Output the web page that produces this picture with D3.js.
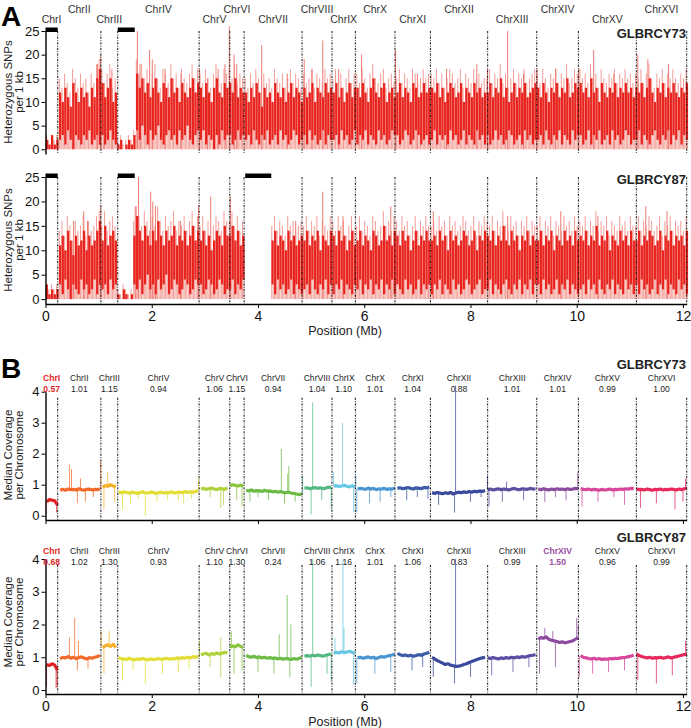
<!DOCTYPE html>
<html><head><meta charset="utf-8">
<script src="https://cdn.jsdelivr.net/npm/d3@7"></script>
<style>body{margin:0;background:#fff} svg{display:block} text{font-family:"Liberation Sans",Arial,Helvetica,sans-serif}</style>
</head><body><svg id="c" width="691" height="728"></svg>
<script>
// ---------- DATA ----------
const chromNames = ["ChrI","ChrII","ChrIII","ChrIV","ChrV","ChrVI","ChrVII","ChrVIII","ChrIX","ChrX","ChrXI","ChrXII","ChrXIII","ChrXIV","ChrXV","ChrXVI"];
const chromEnds = [0.230,1.043,1.360,2.892,3.469,3.739,4.830,5.393,5.833,6.579,7.246,8.324,9.248,10.032,11.123,12.071];
const chromColors = ["#e31f26","#f26a2b","#f8b12b","#e3de36","#b0d23a","#8cc63f","#6cbb47","#55b983","#67c7e3","#4a96d3","#3b5aa8","#3b4a9a","#5b4fa2","#8c4b9f","#d7479b","#e6295a"];
const binStep = 0.05; // Mb per bin

const covLabelsY73 = ["0.57","1.01","1.15","0.94","1.06","1.15","0.94","1.04","1.10","1.01","1.04","0.88","1.01","1.01","0.99","1.00"];
const covLabelsY87 = ["0.68","1.02","1.30","0.93","1.10","1.30","0.24","1.06","1.16","1.01","1.06","0.83","0.99","1.50","0.96","0.99"];
const highlightY73 = {"ChrI":"#e31f26"};
const highlightY87 = {"ChrI":"#e31f26","ChrXIV":"#9a4fa3"};

// Panel A : heterozygous SNPs per 1 kb — per 50 kb bin: dense band (lo..hi) and local peak
const snpHiY73 = [2,1,3,1,2,
 12,10,13,11,9,14,12,10,13,11,12,9,13,11,15,17,
 14,11,13,15,10,12,
 1,2,0,1,2,1,3,
 16,13,15,12,14,11,13,15,12,10,14,13,11,15,12,13,10,14,12,11,13,15,12,14,
 13,11,14,12,10,13,15,12,11,14,13,
 14,12,15,11,13,12,
 12,10,13,11,14,12,9,13,11,12,10,14,12,11,13,10,12,14,11,13,12,10,
 13,11,12,14,10,13,12,11,14,12,13,
 12,14,11,13,10,12,14,11,13,
 13,11,14,12,10,13,15,12,11,13,14,10,12,13,11,
 12,14,11,13,12,10,14,13,11,12,14,12,13,
 13,12,14,11,13,10,12,14,13,11,12,14,10,13,12,11,14,12,13,11,12,
 12,14,11,13,12,15,11,13,10,12,14,11,13,12,14,11,12,13,14,
 13,11,14,12,10,13,12,14,11,13,12,15,11,12,14,13,
 14,12,13,11,15,12,13,10,14,12,11,13,12,14,11,13,12,14,12,13,11,
 13,12,14,11,13,15,12,10,13,12,14,11,13,12,14,12,11,13,12,14];
const snpLoY73 = [0,0,0,0,0,
 2,3,1,4,2,0,3,2,1,3,2,4,1,2,3,1,
 3,1,2,4,2,1,
 0,0,0,0,0,0,0,
 4,2,5,3,1,4,2,3,5,2,1,3,4,2,3,1,4,2,3,5,2,1,3,4,
 2,4,1,3,2,0,3,1,4,2,3,
 3,1,2,4,2,3,
 2,3,1,4,2,1,3,2,4,1,2,3,1,4,2,3,1,2,4,3,1,2,
 3,1,4,2,3,1,2,4,1,3,2,
 2,3,1,4,2,3,1,2,4,
 1,3,2,4,1,3,2,1,4,2,3,1,2,4,3,
 3,1,2,4,3,1,2,4,3,1,2,3,1,
 2,4,1,3,2,3,1,4,2,3,1,2,4,1,3,2,1,4,2,3,1,
 3,1,2,4,2,3,1,2,4,3,1,2,3,1,4,2,3,1,2,
 2,3,1,4,2,1,3,2,4,1,3,2,1,4,2,3,
 3,1,2,4,1,3,2,4,1,2,3,1,4,2,3,1,2,4,3,1,2,
 2,4,1,3,2,1,3,4,2,1,3,2,4,1,3,2,4,1,3,2];
const snpPeakY73 = [3,2,3,2,3,
 15,13,16,14,12,17,15,13,16,14,15,12,16,14,18,19,
 17,14,16,18,13,15,
 2,3,1,2,3,2,4,
 19,16,18,15,17,14,16,18,15,13,17,16,14,18,15,16,13,17,15,14,16,18,15,17,
 16,14,17,15,13,16,18,15,14,17,16,
 17,15,18,14,16,15,
 15,13,16,14,17,15,12,16,14,15,13,17,15,14,16,13,15,17,14,16,15,13,
 16,14,15,17,13,16,15,14,17,15,16,
 15,17,14,16,13,15,17,14,16,
 16,14,17,15,13,16,18,15,14,16,17,13,15,16,14,
 15,17,14,16,15,13,17,16,14,15,17,15,16,
 16,15,17,14,16,13,15,17,16,14,15,17,13,16,15,14,17,15,16,14,15,
 15,17,14,16,15,18,14,16,13,15,17,14,16,15,17,14,15,16,17,
 16,14,17,15,13,16,15,17,14,16,15,18,14,15,17,16,
 17,15,16,14,18,15,16,13,17,15,14,16,15,17,14,16,15,17,15,16,14,
 16,15,17,14,16,18,15,13,16,15,17,14,16,15,17,15,14,16,15,17];
const snpSpikesY73 = [[0.02,3],[0.98,18],[1.04,20],[1.1,14],[1.25,17],[1.73,25],[1.78,18],[1.96,21],[2.01,19],[2.25,17],[2.55,16],[2.9,17],[3.05,15],[3.25,17],[3.38,18],[3.46,26],[3.55,20],[3.6,18],[4.07,22],[4.55,16],[4.87,19],[5.02,17],[5.22,23],[5.52,17],[5.95,20],[6.59,21],[7.0,16],[7.55,17],[8.12,18],[8.32,17],[8.7,25],[9.0,16],[9.25,17],[9.6,17],[10.04,17],[10.32,21],[10.7,16],[11.15,20],[11.34,19],[11.73,18]];
const lohY73 = [[0,0.23],[1.36,1.68]];

const snpHiY87 = [3,1,2,1,2,
 11,13,10,14,12,9,13,11,12,14,10,13,11,12,14,16,
 12,15,11,13,14,12,
 1,0,2,1,0,1,
 13,17,14,12,15,13,11,14,12,16,13,11,14,12,13,15,11,13,12,14,11,13,15,12,14,
 12,14,11,13,10,12,14,13,11,15,13,
 13,15,12,14,11,13,
 0,0,0,0,0,0,0,0,0,0,12,14,11,13,12,10,14,12,13,11,12,13,
 12,14,11,13,12,14,10,13,12,11,14,
 13,11,14,12,13,10,12,14,11,
 12,14,11,13,12,10,14,13,11,12,15,12,13,11,14,
 13,11,14,12,13,10,12,14,11,13,12,14,12,
 12,13,11,14,12,13,10,14,12,13,11,12,14,13,11,12,14,10,13,12,14,
 13,12,14,11,13,12,15,12,11,14,12,13,10,13,12,14,11,13,12,
 12,14,11,13,12,14,10,13,12,11,14,12,13,11,14,12,
 13,12,14,11,13,12,15,11,13,12,14,10,13,12,11,14,12,13,11,14,12,
 12,14,11,13,12,14,13,11,12,14,10,13,12,14,11,13,12,13,11,14];
const snpLoY87 = [0,0,0,0,0,
 3,1,4,2,0,3,2,1,4,2,3,1,2,4,1,3,
 2,3,1,4,2,3,
 0,0,0,0,0,0,
 3,2,4,1,3,5,2,3,1,4,2,3,5,1,2,4,3,1,2,4,3,1,2,4,3,
 3,1,2,4,3,1,2,4,3,1,2,
 2,4,1,3,2,4,
 0,0,0,0,0,0,0,0,0,0,3,1,4,2,3,1,2,4,1,3,2,1,
 2,3,1,4,2,1,3,2,4,1,3,
 1,3,2,4,1,3,2,1,3,
 2,4,1,3,2,4,1,3,2,4,1,3,2,4,1,
 3,2,1,4,2,3,1,2,4,1,3,2,3,
 1,3,2,4,1,3,2,1,4,2,3,1,2,4,3,1,2,3,4,1,2,
 2,4,1,3,2,1,3,4,2,1,3,2,4,1,3,2,4,1,3,
 3,1,4,2,3,1,2,4,1,3,2,4,1,3,2,1,
 2,3,1,4,2,3,1,4,2,1,3,2,4,1,3,2,1,4,2,3,1,
 3,1,4,2,3,1,2,4,1,3,2,4,1,3,2,1,4,2,3,1];
const snpPeakY87 = [3,2,3,2,3,
 14,16,13,17,15,12,16,14,15,17,13,16,14,15,17,18,
 15,18,14,16,17,15,
 2,1,3,2,1,2,
 16,19,17,15,18,16,14,17,15,19,16,14,17,15,16,18,14,16,15,17,14,16,18,15,17,
 15,17,14,16,13,15,17,16,14,18,16,
 16,18,15,17,14,16,
 0,0,0,0,0,0,0,0,0,0,15,17,14,16,15,13,17,15,16,14,15,16,
 15,17,14,16,15,17,13,16,15,14,17,
 16,14,17,15,16,13,15,17,14,
 15,17,14,16,15,13,17,16,14,15,18,15,16,14,17,
 16,14,17,15,16,13,15,17,14,16,15,17,15,
 15,16,14,17,15,16,13,17,15,16,14,15,17,16,14,15,17,13,16,15,17,
 16,15,17,14,16,15,18,15,14,17,15,16,13,16,15,17,14,16,15,
 15,17,14,16,15,17,13,16,15,14,17,15,16,14,17,15,
 16,15,17,14,16,15,18,14,16,15,17,13,16,15,14,17,15,16,14,17,15,
 15,17,14,16,15,17,16,14,15,17,13,16,15,17,14,16,15,16,14,17];
const snpSpikesY87 = [[0.02,2],[0.53,16],[0.72,18],[0.79,16],[1.04,19],[1.69,19],[1.75,25],[1.98,22],[2.02,20],[2.07,19],[2.54,16],[2.88,19],[3.11,21],[3.48,21],[4.71,16],[5.22,22],[5.6,17],[6.5,19],[7.3,18],[8.7,17],[9.7,18],[10.4,17],[11.3,19],[11.7,18]];
const lohY87 = [[0,0.23],[1.36,1.68],[3.76,4.25]];

// Panel B : median-normalised coverage per 50 kb bin
const covY73 = [0.45,0.52,0.5,0.48,0.35,
 0.83,0.85,0.82,0.86,0.84,0.85,0.83,0.87,0.84,0.82,0.85,0.86,0.83,0.85,0.84,0.86,
 0.92,0.97,0.95,1.0,0.96,0.93,
 0.76,0.74,0.77,0.75,0.73,0.76,0.74,0.72,0.75,0.77,0.74,0.73,0.76,0.75,0.72,0.74,0.76,0.73,0.75,0.74,0.77,0.73,0.75,0.76,0.74,0.78,0.75,0.77,0.76,0.78,0.8,
 0.86,0.88,0.85,0.87,0.89,0.86,0.84,0.88,0.87,0.85,0.9,
 0.97,1.0,0.98,0.96,0.99,0.95,
 0.82,0.8,0.83,0.79,0.81,0.8,0.78,0.82,0.79,0.8,0.77,0.79,0.76,0.78,0.75,0.74,0.76,0.73,0.72,0.7,0.68,0.7,
 0.88,0.9,0.87,0.89,0.91,0.88,0.9,0.87,0.89,0.92,0.9,
 0.95,0.97,0.94,0.96,0.98,0.95,0.93,0.97,0.92,
 0.86,0.88,0.87,0.85,0.89,0.86,0.88,0.84,0.87,0.86,0.88,0.85,0.87,0.86,0.89,
 0.88,0.9,0.87,0.89,0.91,0.88,0.86,0.9,0.89,0.87,0.91,0.9,0.92,
 0.74,0.72,0.75,0.73,0.71,0.74,0.72,0.75,0.7,0.73,0.76,0.74,0.77,0.75,0.78,0.76,0.79,0.77,0.8,0.78,0.81,
 0.84,0.86,0.83,0.85,0.87,0.84,0.86,0.85,0.83,0.86,0.88,0.85,0.84,0.87,0.86,0.85,0.88,0.86,0.87,
 0.86,0.84,0.87,0.85,0.83,0.86,0.84,0.87,0.85,0.86,0.84,0.87,0.85,0.86,0.88,0.87,
 0.88,0.85,0.84,0.86,0.83,0.85,0.84,0.82,0.85,0.83,0.84,0.86,0.83,0.85,0.84,0.86,0.85,0.87,0.86,0.88,0.87,
 0.86,0.84,0.85,0.83,0.86,0.84,0.82,0.85,0.84,0.86,0.83,0.85,0.84,0.86,0.85,0.83,0.86,0.84,0.87,0.88];
const covSpikesY73 = [[0.01,0.05],[0.21,0.1],[0.45,1.65],[0.49,1.5],[0.6,0.4],[0.66,1.2],[0.75,0.45],[0.9,0.6],[1.04,1.75],[1.1,0.2],[1.17,1.4],[1.3,0.45],[1.45,0.2],[1.6,0.4],[1.75,0.55],[1.88,0.0],[2.1,0.45],[2.3,0.5],[2.5,0.5],[2.6,0.4],[2.75,0.55],[2.88,1.25],[3.1,0.6],[3.3,0.25],[3.35,0.35],[3.6,0.5],[3.7,0.3],[3.85,0.45],[4.0,0.6],[4.2,0.5],[4.44,2.15],[4.5,0.4],[4.56,1.35],[4.58,1.6],[4.7,0.45],[4.84,1.3],[5.0,0.05],[5.03,3.65],[5.2,0.5],[5.38,0.2],[5.42,1.4],[5.59,3.0],[5.8,0.1],[5.84,1.3],[5.86,0.1],[6.1,0.4],[6.3,0.45],[6.5,0.6],[6.8,0.5],[7.0,0.6],[7.2,0.55],[7.4,0.35],[7.7,0.1],[7.72,4.2],[8.0,0.45],[8.2,0.6],[8.32,1.3],[8.35,0.3],[8.6,0.45],[8.68,1.1],[9.0,0.5],[9.4,0.45],[9.6,0.6],[9.8,0.5],[10.02,1.4],[10.1,0.3],[10.4,0.45],[10.7,0.6],[10.9,0.35],[11.2,0.25],[11.5,0.4],[11.85,0.2],[12.0,0.45],[12.05,1.2]];

const covY87 = [0.78,0.75,0.8,0.76,0.6,
 0.95,1.0,0.98,1.02,0.97,1.0,0.96,0.99,1.01,0.98,0.95,0.99,0.97,1.0,1.02,1.05,
 1.3,1.35,1.38,1.33,1.4,1.3,
 0.98,0.96,0.95,0.93,0.97,0.94,0.92,0.95,0.93,0.96,0.94,0.92,0.95,0.93,0.94,0.96,0.93,0.95,0.97,0.94,0.96,0.95,0.98,0.96,0.99,0.97,1.0,0.98,1.02,1.0,1.03,
 1.08,1.1,1.12,1.07,1.11,1.09,1.13,1.1,1.12,1.15,1.14,
 1.3,1.35,1.32,1.38,1.33,1.3,
 1.05,1.02,1.0,1.03,0.99,1.01,0.98,1.0,0.97,0.99,0.96,0.98,0.95,0.97,0.94,0.96,0.95,0.93,0.96,0.94,0.97,0.99,
 1.02,1.05,1.03,1.06,1.04,1.07,1.05,1.03,1.06,1.08,1.1,
 1.12,1.15,1.13,1.17,1.14,1.16,1.18,1.15,1.12,
 0.98,1.0,0.97,0.99,1.01,0.98,1.0,0.96,0.99,1.02,1.0,1.03,1.05,1.07,1.1,
 1.12,1.08,1.05,1.07,1.04,1.06,1.03,1.05,1.08,1.06,1.1,1.12,1.15,
 1.0,0.95,0.9,0.86,0.82,0.78,0.8,0.76,0.74,0.72,0.73,0.75,0.78,0.8,0.84,0.87,0.9,0.93,0.96,0.98,1.0,
 0.98,0.96,0.99,0.97,0.95,0.98,0.96,0.99,0.97,1.0,0.98,1.01,0.99,1.02,1.0,1.03,1.05,1.06,1.08,
 1.55,1.6,1.58,1.62,1.55,1.52,1.5,1.48,1.45,1.47,1.44,1.46,1.48,1.5,1.55,1.6,
 1.05,1.0,0.98,0.96,0.95,0.97,0.94,0.96,0.93,0.95,0.94,0.96,0.95,0.97,0.96,0.98,0.99,1.0,1.02,1.04,1.06,
 1.1,1.05,1.02,1.0,0.98,1.0,0.97,0.99,0.98,1.0,0.97,0.99,1.01,0.98,1.0,1.02,1.04,1.06,1.08,1.1];
const covSpikesY87 = [[0.02,0.1],[0.2,0.05],[0.22,0.1],[0.45,1.6],[0.55,2.2],[0.6,0.6],[0.62,1.5],[0.8,0.65],[1.05,1.8],[1.1,0.5],[1.2,1.8],[1.45,0.3],[1.65,0.6],[1.88,0.2],[2.2,0.5],[2.5,0.55],[2.7,0.65],[2.9,1.5],[3.1,0.7],[3.3,0.4],[3.3,1.6],[3.5,1.8],[3.55,0.5],[3.7,0.6],[4.0,0.55],[4.3,0.5],[4.4,1.7],[4.55,2.9],[4.6,0.4],[4.62,2.0],[5.0,0.1],[5.03,4.0],[5.3,0.5],[5.38,0.25],[5.45,1.6],[5.6,4.0],[5.62,1.9],[5.8,0.15],[5.86,0.2],[6.2,0.5],[6.5,0.55],[6.9,0.6],[7.1,0.7],[7.3,0.4],[7.7,0.2],[7.72,4.0],[8.0,0.4],[8.4,0.45],[8.8,0.55],[9.1,0.7],[9.3,0.5],[9.4,1.9],[9.55,1.8],[9.6,0.7],[10.0,2.2],[10.03,2.0],[10.05,0.4],[10.3,0.5],[10.6,0.55],[10.9,0.6],[11.15,0.3],[11.5,0.2],[11.8,0.45],[12.05,1.5]];

const snpTicks = [0,5,10,15,20,25];
const covTicks = [0,1,2,3,4];
const posTicks = [0,2,4,6,8,10,12];

// ---------- DRAW ----------
const svg = d3.select("#c");
const x = d3.scaleLinear().domain([0, 12.071]).range([45.5, 45.5 + 12.071 * 53.12]);
const chromStarts = [0].concat(chromEnds.slice(0, -1));
const chromMids = chromStarts.map((s, i) => (s + chromEnds[i]) / 2);
const binPos = i => (i + 0.5) * binStep;
const chromOf = p => Math.min(d3.bisectRight(chromEnds, p), chromEnds.length - 1);

function dashes(y0, y1) {
  svg.append("g").selectAll("line").data(chromEnds).join("line")
    .attr("x1", d => x(d)).attr("x2", d => x(d))
    .attr("y1", y0).attr("y2", y1)
    .attr("stroke", "#111").attr("stroke-width", 1)
    .attr("stroke-dasharray", "2.2,1.3,0.8,1.3");
}

function yAxis(y, ticks) {
  const g = svg.append("g").attr("transform", "translate(45.5,0)")
    .call(d3.axisLeft(y).tickValues(ticks).tickSize(4).tickSizeOuter(0).tickPadding(2).tickFormat(d3.format("d")));
  g.select(".domain").attr("stroke-width", 1.4);
  g.selectAll("text").attr("font-size", 13).attr("fill", "#111");
  return g;
}

function xAxis(yPos, labels) {
  const g = svg.append("g").attr("transform", `translate(0,${yPos})`)
    .call(d3.axisBottom(x).tickValues(posTicks).tickSize(4).tickSizeOuter(0).tickPadding(3)
      .tickFormat(labels ? d3.format("d") : () => ""));
  g.select(".domain").attr("stroke-width", 1.4);
  g.selectAll("text").attr("font-size", 14).attr("fill", "#111");
}

function snpTrack(hi, lo, peak, spikes, loh, top, bottom, name) {
  const y = d3.scaleLinear().domain([-1, 25]).range([bottom, top]);
  const g = svg.append("g");
  const bins = hi.map((h, i) => ({p: binPos(i), h, l: lo[i], k: peak[i]})).filter(d => d.h > 0 || d.k > 0);
  g.selectAll(".pk").data(bins).join("line")
    .attr("x1", d => x(d.p) - 0.8).attr("x2", d => x(d.p) - 0.8)
    .attr("y1", y(0)).attr("y2", d => y(d.k))
    .attr("stroke", "#f39c95").attr("stroke-width", 1);
  g.selectAll(".low").data(bins).join("line")
    .attr("x1", d => x(d.p) + 0.6).attr("x2", d => x(d.p) + 0.6)
    .attr("y1", y(0)).attr("y2", d => y(d.l))
    .attr("stroke", "#f5b3ad").attr("stroke-width", 1.2);
  g.selectAll(".spk").data(spikes).join("line")
    .attr("x1", d => x(d[0])).attr("x2", d => x(d[0]))
    .attr("y1", y(0)).attr("y2", d => y(d[1]))
    .attr("stroke", "#ee7a72").attr("stroke-width", 1);
  g.selectAll(".band").data(bins).join("line")
    .attr("x1", d => x(d.p)).attr("x2", d => x(d.p))
    .attr("y1", d => y(d.l)).attr("y2", d => y(d.h))
    .attr("stroke", "#e8241f").attr("stroke-width", 2.3);
  dashes(top, bottom);
  svg.append("g").selectAll("rect").data(loh).join("rect")
    .attr("x", d => x(d[0])).attr("width", d => x(d[1]) - x(d[0]))
    .attr("y", top - 3.5).attr("height", 4.5).attr("fill", "#000");
  yAxis(y, snpTicks);
  svg.append("text").attr("x", 686).attr("y", top + 7).attr("text-anchor", "end")
    .attr("font-size", 13).attr("font-weight", "bold").attr("fill", "#222").text(name);
  return y;
}

function covTrack(vals, spikes, top, zeroY, bottom, name, labels, highlight, labelY) {
  const y = d3.scaleLinear().domain([0, 4]).range([zeroY, top]);
  const g = svg.append("g");
  g.selectAll("line").data(spikes).join("line")
    .attr("x1", d => x(d[0])).attr("x2", d => x(d[0]))
    .attr("y1", d => y(vals[Math.min(Math.floor(d[0] / binStep), vals.length - 1)]))
    .attr("y2", d => y(d[1]))
    .attr("stroke", d => chromColors[chromOf(d[0])]).attr("stroke-width", 1).attr("opacity", 0.75);
  const line = d3.line().x(d => x(d.p)).y(d => y(d.v));
  const pts = vals.map((v, i) => ({p: binPos(i), v, c: chromOf(binPos(i))}));
  chromNames.forEach((n, ci) => {
    const seg = pts.filter(d => d.c === ci);
    g.append("path").datum(seg).attr("d", line).attr("fill", "none")
      .attr("stroke", chromColors[ci]).attr("stroke-width", 3.2).attr("stroke-linejoin", "round");
  });
  dashes(top + 6, bottom);
  yAxis(d3.scaleLinear().domain([y.invert(bottom), 4]).range([bottom, top]), covTicks);
  const lg = svg.append("g").attr("font-size", 8.6).attr("text-anchor", "middle");
  chromNames.forEach((n, i) => {
    const col = highlight[n] || "#222";
    const w = highlight[n] ? "bold" : "normal";
    lg.append("text").attr("x", x(chromMids[i])).attr("y", labelY)
      .attr("fill", col).attr("font-weight", w).text(n);
    lg.append("text").attr("x", x(chromMids[i])).attr("y", labelY + 11)
      .attr("fill", col).attr("font-weight", w).text(labels[i]);
  });
  svg.append("text").attr("x", 686).attr("y", labelY - 12).attr("text-anchor", "end")
    .attr("font-size", 13).attr("font-weight", "bold").attr("fill", "#222").text(name);
}

function yTitle(cy, l1, l2, x1, x2) {
  const g = svg.append("g").attr("font-size", 11.5).attr("fill", "#222").attr("text-anchor", "middle");
  g.append("text").attr("transform", `translate(${x1},${cy}) rotate(-90)`).text(l1);
  g.append("text").attr("transform", `translate(${x2},${cy}) rotate(-90)`).text(l2);
}

// Panel A
svg.append("text").attr("x", 1).attr("y", 26).attr("font-size", 28).attr("font-weight", "bold").text("A");
const ta = svg.append("g").attr("font-size", 10.5).attr("text-anchor", "middle");
chromNames.forEach((n, i) => {
  ta.append("text").attr("x", x(chromMids[i])).attr("y", i % 2 === 0 ? 22.5 : 13).attr("fill", "#333").text(n);
});
snpTrack(snpHiY73, snpLoY73, snpPeakY73, snpSpikesY73, lohY73, 31, 154, "GLBRCY73");
snpTrack(snpHiY87, snpLoY87, snpPeakY87, snpSpikesY87, lohY87, 177, 304, "GLBRCY87");
xAxis(304, true);
svg.append("text").attr("x", 345).attr("y", 335).attr("text-anchor", "middle").attr("font-size", 12.5).attr("fill", "#222").text("Position (Mb)");
yTitle(92, "Heterozygous SNPs", "per 1 kb", 11.5, 23);
yTitle(240, "Heterozygous SNPs", "per 1 kb", 11.5, 23);

// Panel B
svg.append("text").attr("x", 1).attr("y", 378).attr("font-size", 28).attr("font-weight", "bold").text("B");
covTrack(covY73, covSpikesY73, 391.7, 515.7, 520, "GLBRCY73", covLabelsY73, highlightY73, 381);
xAxis(520, false);
covTrack(covY87, covSpikesY87, 559, 690, 694, "GLBRCY87", covLabelsY87, highlightY87, 554);
xAxis(694, true);
svg.append("text").attr("x", 345).attr("y", 726).attr("text-anchor", "middle").attr("font-size", 12.5).attr("fill", "#222").text("Position (Mb)");
yTitle(455, "Median Coverage", "per Chromosome", 11.5, 23);
yTitle(622, "Median Coverage", "per Chromosome", 11.5, 23);
</script></body></html>
